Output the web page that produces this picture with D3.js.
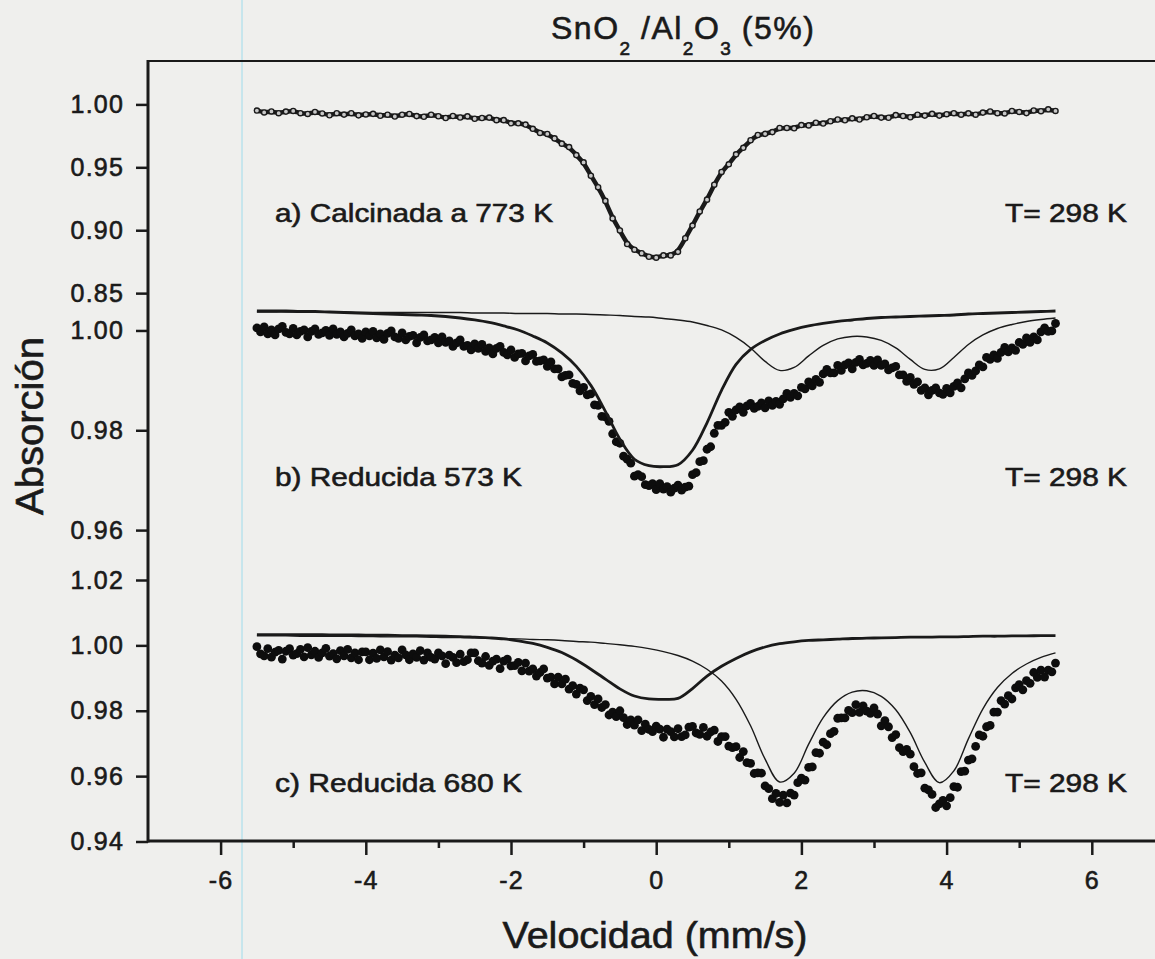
<!DOCTYPE html>
<html>
<head>
<meta charset="utf-8">
<script src="https://cdn.jsdelivr.net/npm/d3@7"></script>
<style>
html, body { margin: 0; padding: 0; background: #efefed; }
svg { display: block; font-family: Arial, "Liberation Sans", sans-serif; }
svg text { stroke: #1a1a1a; stroke-width: 0.6px; }
</style>
</head>
<body>
<div id="chart"></div>
<script>
// channel grids (mm/s)
const vA = d3.range(-5.5, 5.51, 0.1);
const vData = d3.range(-5.5, 5.51, 0.05);
const vFit = d3.range(-5.5, 5.51, 0.2);

const xTicks = [-6, -4, -2, 0, 2, 4, 6];
const xMinorTicks = [-5, -3, -1, 1, 3, 5];
const yTicksA = [0.85, 0.90, 0.95, 1.00];
const yTicksB = [0.96, 0.98, 1.00];
const yTicksC = [0.94, 0.96, 0.98, 1.00, 1.02];

const sampleLabels = ["a) Calcinada a 773 K", "b) Reducida 573 K", "c) Reducida 680 K"];
const tempLabel = "T= 298 K";

// a) calcined at 773 K, relative transmission
const aData = [
  .9951,.9936,.9944,.9930,.9943,.9948,.9930,.9924,.9940,.9928,
  .9914,.9930,.9919,.9930,.9913,.9920,.9925,.9910,.9918,.9904,
  .9918,.9924,.9907,.9902,.9918,.9906,.9892,.9908,.9896,.9905,
  .9886,.9892,.9895,.9875,.9875,.9850,.9850,.9840,.9806,.9773,
  .9765,.9730,.9688,.9661,.9597,.9539,.9433,.9342,.9233,.9094,
  .8998,.8890,.8845,.8817,.8789,.8782,.8800,.8800,.8828,.8936,
  .9037,.9149,.9243,.9362,.9463,.9524,.9603,.9655,.9715,.9757,
  .9766,.9780,.9813,.9813,.9810,.9836,.9833,.9854,.9848,.9866,
  .9880,.9874,.9889,.9880,.9898,.9908,.9895,.9894,.9915,.9908,
  .9898,.9918,.9911,.9925,.9911,.9922,.9930,.9918,.9929,.9918,
  .9935,.9944,.9930,.9928,.9948,.9940,.9931,.9952,.9946,.9961,
  .9948
];

// b) reduced at 573 K
const bData = [
  1.0005,.9997,1.0007,.9993,1.0001,.9991,1.0003,1.0008,.9996,.9993,
  1.0004,.9991,.9998,1.0001,.9987,.9998,1.0003,.9992,.9995,1.0000,
  .9990,1.0003,.9992,.9997,.9987,.9994,1.0001,.9989,.9993,.9984,
  .9997,.9989,.9998,.9985,.9993,.9982,.9994,.9999,.9987,.9984,
  .9995,.9981,.9988,.9990,.9975,.9986,.9991,.9979,.9981,.9986,
  .9975,.9987,.9976,.9979,.9968,.9975,.9981,.9968,.9970,.9961,
  .9973,.9964,.9972,.9958,.9965,.9953,.9964,.9968,.9956,.9951,
  .9961,.9946,.9953,.9954,.9939,.9949,.9952,.9938,.9939,.9941,
  .9928,.9937,.9923,.9923,.9907,.9910,.9911,.9894,.9892,.9879,
  .9886,.9871,.9873,.9851,.9850,.9828,.9827,.9818,.9793,.9777,
  .9774,.9748,.9742,.9734,.9708,.9711,.9707,.9691,.9689,.9693,
  .9681,.9693,.9682,.9687,.9676,.9684,.9690,.9680,.9686,.9688,
  .9711,.9715,.9737,.9739,.9762,.9767,.9794,.9810,.9810,.9816,
  .9836,.9828,.9841,.9847,.9836,.9849,.9854,.9844,.9848,.9855,
  .9845,.9859,.9850,.9858,.9852,.9863,.9874,.9866,.9874,.9869,
  .9886,.9883,.9897,.9889,.9902,.9896,.9913,.9922,.9915,.9915,
  .9930,.9920,.9931,.9935,.9923,.9936,.9942,.9931,.9934,.9940,
  .9930,.9941,.9930,.9933,.9921,.9925,.9928,.9911,.9911,.9898,
  .9906,.9892,.9897,.9880,.9885,.9871,.9880,.9885,.9875,.9872,
  .9884,.9875,.9888,.9895,.9885,.9903,.9915,.9910,.9919,.9931,
  .9927,.9946,.9942,.9951,.9944,.9956,.9966,.9957,.9965,.9960,
  .9976,.9972,.9985,.9976,.9987,.9981,.9997,1.0005,.9998,.9999,1.0014
];
const bSinglet = [
  1.0039,1.0039,1.0039,1.0038,1.0038,1.0037,1.0036,1.0035,1.0034,1.0033,
  1.0032,1.0031,1.0030,1.0028,1.0025,1.0021,1.0016,1.0009,1.0001,.9989,
  .9975,.9955,.9928,.9890,.9838,.9782,.9742,.9729,.9727,.9731,
  .9760,.9815,.9880,.9932,.9962,.9980,.9993,1.0002,1.0009,1.0014,
  1.0018,1.0021,1.0024,1.0026,1.0027,1.0028,1.0029,1.0030,1.0031,1.0033,
  1.0034,1.0035,1.0036,1.0037,1.0038,1.0039
];
const bDoublet = [
  1.0037,1.0037,1.0037,1.0037,1.0037,1.0037,1.0037,1.0036,1.0036,1.0036,
  1.0036,1.0036,1.0036,1.0036,1.0036,1.0035,1.0035,1.0035,1.0034,1.0034,
  1.0034,1.0033,1.0033,1.0032,1.0031,1.0030,1.0028,1.0027,1.0024,1.0021,
  1.0017,1.0010,1.0001,.9986,.9965,.9938,.9920,.9926,.9949,.9970,
  .9983,.9988,.9987,.9980,.9965,.9942,.9922,.9923,.9946,.9972,
  .9991,1.0004,1.0012,1.0018,1.0022,1.0025
];

// c) reduced at 680 K
const cData = [
  .9996,.9974,.9968,.9990,.9964,.9979,.9985,.9958,.9982,.9990,
  .9970,.9975,.9988,.9965,.9993,.9971,.9982,.9963,.9977,.9991,
  .9967,.9975,.9959,.9984,.9968,.9988,.9962,.9977,.9956,.9980,
  .9980,.9956,.9976,.9960,.9986,.9965,.9981,.9955,.9970,.9962,
  .9986,.9971,.9956,.9974,.9963,.9984,.9955,.9977,.9963,.9958,
  .9977,.9968,.9944,.9970,.9963,.9947,.9973,.9950,.9956,.9977,
  .9977,.9953,.9946,.9966,.9939,.9952,.9958,.9929,.9952,.9958,
  .9937,.9938,.9948,.9922,.9946,.9921,.9928,.9906,.9917,.9928,
  .9900,.9903,.9882,.9903,.9882,.9897,.9866,.9877,.9851,.9869,
  .9864,.9831,.9844,.9819,.9836,.9810,.9819,.9787,.9796,.9782,
  .9800,.9779,.9758,.9772,.9756,.9772,.9739,.9759,.9743,.9736,
  .9753,.9744,.9719,.9744,.9736,.9720,.9745,.9721,.9726,.9750,
  .9752,.9732,.9728,.9749,.9722,.9735,.9741,.9706,.9721,.9721,
  .9692,.9687,.9690,.9657,.9675,.9641,.9639,.9608,.9610,.9609,
  .9570,.9562,.9531,.9547,.9520,.9542,.9518,.9548,.9542,.9580,
  .9594,.9588,.9627,.9628,.9672,.9670,.9704,.9696,.9730,.9737,
  .9777,.9778,.9778,.9801,.9794,.9819,.9795,.9815,.9799,.9792,
  .9809,.9790,.9754,.9770,.9751,.9718,.9727,.9687,.9675,.9682,
  .9667,.9629,.9608,.9610,.9563,.9558,.9544,.9504,.9515,.9526,
  .9509,.9534,.9568,.9566,.9614,.9615,.9649,.9653,.9691,.9726,
  .9722,.9751,.9755,.9796,.9796,.9831,.9820,.9846,.9836,.9870,
  .9880,.9864,.9892,.9884,.9917,.9902,.9924,.9903,.9924,.9919,.9946
];
const cSinglet = [
  1.0033,1.0033,1.0033,1.0033,1.0033,1.0032,1.0032,1.0032,1.0031,1.0031,
  1.0030,1.0030,1.0029,1.0028,1.0027,1.0025,1.0023,1.0020,1.0014,1.0006,
  .9994,.9978,.9955,.9927,.9897,.9867,.9845,.9836,.9835,.9838,
  .9868,.9906,.9936,.9960,.9980,.9995,1.0005,1.0011,1.0015,1.0017,
  1.0019,1.0021,1.0022,1.0023,1.0024,1.0025,1.0025,1.0026,1.0026,1.0027,
  1.0028,1.0028,1.0029,1.0029,1.0030,1.0030
];
const cDoublet = [
  1.0029,1.0029,1.0029,1.0028,1.0028,1.0028,1.0028,1.0027,1.0027,1.0026,
  1.0026,1.0026,1.0025,1.0024,1.0024,1.0023,1.0022,1.0021,1.0020,1.0018,
  1.0017,1.0015,1.0012,1.0010,1.0006,1.0002,.9997,.9990,.9981,.9969,
  .9952,.9927,.9891,.9835,.9754,.9652,.9582,.9609,.9698,.9779,
  .9831,.9857,.9861,.9844,.9803,.9733,.9642,.9580,.9616,.9714,
  .9806,.9871,.9914,.9943,.9963,.9977
];

const W = 1155, H = 959;
const INK = "#1a1a1a";
const plotLeft = 148, plotTop = 61, plotBottom = 841;

let svg = d3.select("#chart").append("svg")
    .attr("width", W)
    .attr("height", H);

svg.append("rect")
    .attr("width", W)
    .attr("height", H)
    .attr("fill", "#efefed");

// faint scanner streak
svg.append("line")
    .attr("x1", 242).attr("x2", 242)
    .attr("y1", 0).attr("y2", H)
    .attr("stroke", "#9fdcec")
    .attr("stroke-width", 1);

let x = d3.scaleLinear()
    .domain([-7, 7])
    .range([plotLeft, plotLeft + 14 * 72.6]);

// three stacked layers, each with its own absorption scale
let panels = [
    { top: 61, bottom: 312, domain: [0.835, 1.0345], ticks: yTicksA },
    { top: 312, bottom: 580, domain: [0.95, 1.0037], ticks: yTicksB },
    { top: 580, bottom: 841.5, domain: [0.94, 1.02], ticks: yTicksC }
];
panels.forEach(p => {
    p.y = d3.scaleLinear().domain(p.domain).range([p.bottom, p.top]);
});

let fitLine = d3.line().curve(d3.curveCatmullRom).x((d, i) => x(vFit[i]));

// ---- y axes
panels.forEach(p => {
    let ax = svg.append("g")
        .attr("transform", `translate(${plotLeft},0)`)
        .call(d3.axisLeft(p.y)
            .tickValues(p.ticks)
            .tickFormat(d3.format(".2f"))
            .tickSize(12)
            .tickPadding(12)
            .tickSizeOuter(0));
    ax.select(".domain").remove();
    ax.selectAll(".tick line").attr("stroke", INK).attr("stroke-width", 2.5);
    ax.selectAll(".tick text")
        .attr("fill", INK)
        .style("font-size", "25px")
        .style("letter-spacing", "1.2px");
});

// ---- x axis
let xAxis = svg.append("g")
    .attr("transform", `translate(0,${plotBottom})`)
    .call(d3.axisBottom(x)
        .tickValues(xTicks)
        .tickFormat(d3.format("d"))
        .tickSize(14)
        .tickPadding(16)
        .tickSizeOuter(0));
xAxis.select(".domain").remove();
xAxis.selectAll(".tick line").attr("stroke", INK).attr("stroke-width", 2.5);
xAxis.selectAll(".tick text")
    .attr("fill", INK)
    .style("font-size", "25px")
    .style("letter-spacing", "1.2px")
    .text(d => d < 0 ? "-" + Math.abs(d) : d);

let xMinor = svg.append("g")
    .attr("transform", `translate(0,${plotBottom})`)
    .call(d3.axisBottom(x).tickValues(xMinorTicks).tickSize(7).tickFormat(""));
xMinor.select(".domain").remove();
xMinor.selectAll(".tick line").attr("stroke", INK).attr("stroke-width", 2.5);

// frame: left, bottom, top
svg.append("line")
    .attr("x1", plotLeft).attr("x2", plotLeft)
    .attr("y1", plotTop - 1).attr("y2", plotBottom + 1.5)
    .attr("stroke", INK).attr("stroke-width", 3);
svg.append("line")
    .attr("x1", plotLeft).attr("x2", W)
    .attr("y1", plotBottom).attr("y2", plotBottom)
    .attr("stroke", INK).attr("stroke-width", 3);
svg.append("line")
    .attr("x1", plotLeft).attr("x2", W)
    .attr("y1", plotTop).attr("y2", plotTop)
    .attr("stroke", INK).attr("stroke-width", 2);

// ---- a) calcined: dense open circles over the fitted line
let pa = panels[0];
svg.append("path")
    .datum(aData)
    .attr("fill", "none")
    .attr("stroke", INK)
    .attr("stroke-width", 4.5)
    .attr("d", d3.line().curve(d3.curveBasis)
        .x((d, i) => x(vA[i]))
        .y(d => pa.y(d)));
svg.append("g").selectAll("circle")
    .data(aData)
    .join("circle")
    .attr("cx", (d, i) => x(vA[i]))
    .attr("cy", d => pa.y(d))
    .attr("r", 2.6)
    .attr("fill", "#c8c8c8")
    .attr("stroke", INK)
    .attr("stroke-width", 1.4);

// ---- b) and c) reduced
function reduced(p, data, singlet, doublet) {
    svg.append("g").selectAll("circle")
        .data(data)
        .join("circle")
        .attr("cx", (d, i) => x(vData[i]))
        .attr("cy", d => p.y(d))
        .attr("r", 4.4)
        .attr("fill", "#0d0d0d");
    svg.append("path")
        .datum(doublet)
        .attr("fill", "none")
        .attr("stroke", INK)
        .attr("stroke-width", 1.4)
        .attr("d", fitLine.y(d => p.y(d)));
    svg.append("path")
        .datum(singlet)
        .attr("fill", "none")
        .attr("stroke", INK)
        .attr("stroke-width", 2.8)
        .attr("d", fitLine.y(d => p.y(d)));
}
reduced(panels[1], bData, bSinglet, bDoublet);
reduced(panels[2], cData, cSinglet, cDoublet);

// ---- labels
let labelBase = [222, 486, 792];
let labelLen = [278, 247, 247];
sampleLabels.forEach((t, i) => {
    svg.append("text")
        .attr("x", 275)
        .attr("y", labelBase[i])
        .attr("fill", INK)
        .attr("textLength", labelLen[i])
        .attr("lengthAdjust", "spacingAndGlyphs")
        .style("font-size", "26.5px")
        .text(t);
    svg.append("text")
        .attr("x", 1005)
        .attr("y", labelBase[i])
        .attr("fill", INK)
        .attr("textLength", 122)
        .attr("lengthAdjust", "spacingAndGlyphs")
        .style("font-size", "26.5px")
        .text(tempLabel);
});

// title with subscripts
let title = svg.append("text")
    .attr("x", 551)
    .attr("y", 38.5)
    .attr("fill", INK)
    .style("font-size", "32px")
    .style("letter-spacing", "1.5px");
let parts = [["SnO", 0], ["2", 1], [" /Al", 0], ["2", 1], ["O", 0], ["3", 1], [" (5%)", 0]];
let shifted = false;
parts.forEach(([t, sub]) => {
    let ts = title.append("tspan").text(t);
    if (sub) {
        ts.attr("dy", 16).style("font-size", "19px").style("letter-spacing", "0.5px");
        shifted = true;
    } else if (shifted) {
        ts.attr("dy", -16);
        shifted = false;
    }
});

// axis titles
svg.append("text")
    .attr("x", 655)
    .attr("y", 948)
    .attr("text-anchor", "middle")
    .attr("fill", INK)
    .attr("textLength", 305)
    .attr("lengthAdjust", "spacingAndGlyphs")
    .style("font-size", "37px")
    .text("Velocidad (mm/s)");

svg.append("text")
    .attr("transform", "translate(43,426) rotate(-90)")
    .attr("text-anchor", "middle")
    .attr("fill", INK)
    .attr("textLength", 178)
    .attr("lengthAdjust", "spacingAndGlyphs")
    .style("font-size", "38px")
    .text("Absorción");
</script>
</body>
</html>
